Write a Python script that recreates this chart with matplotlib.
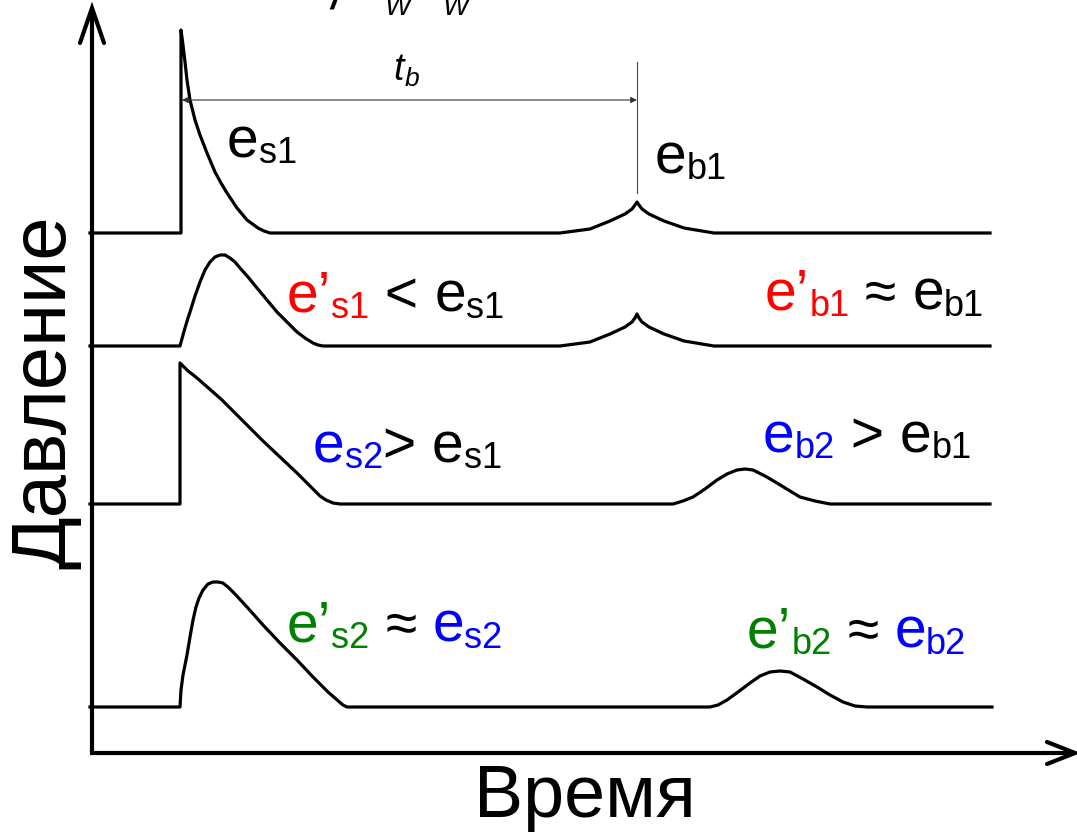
import matplotlib
matplotlib.use('Agg')
import matplotlib.pyplot as plt

plt.rcParams['font.family'] = ['Liberation Sans', 'DejaVu Sans']

# кривые давления, точки (время, давление; ось давления вниз)
t1 = [90, 181, 181, 183, 185, 187, 190, 195, 200, 207, 215, 221, 227, 237, 247, 258, 264, 270,
      560, 590, 610, 625, 632, 635, 637, 639, 642, 649, 664, 684, 714, 990]
p1 = [233, 233, 30, 45, 62, 80, 100, 120, 135, 153, 172, 183, 193, 208, 220, 228, 231, 233,
      233, 229, 221, 214, 209, 205, 202, 205, 209, 214, 221, 228, 233, 233]

t2 = [90, 180, 183, 185, 188, 190, 195, 200, 205, 210, 215, 220, 225, 230, 235, 240, 248, 257,
      267, 277, 287, 297, 305, 313, 318, 323,
      560, 590, 610, 625, 632, 635, 637, 639, 642, 649, 664, 684, 714, 990]
p2 = [346, 346, 335, 328, 318, 312, 296, 282, 270, 262, 257, 255, 255, 258, 262, 268, 277, 288,
      300, 312, 322, 332, 338, 343, 345, 346,
      346, 342, 334, 327, 322, 318, 314, 318, 322, 327, 334, 341, 346, 346]

t3 = [90, 180, 180, 184, 188, 192, 197, 205, 213, 222, 230, 247, 263, 280, 297, 305, 310, 315,
      320, 326, 333, 340,
      673, 683, 693, 705, 717, 727, 737, 745, 753, 765, 777, 790, 800, 815, 830, 990]
p3 = [504, 504, 363, 367, 371, 374, 378, 385, 392, 400, 408, 425, 441, 457, 473, 481, 486, 491,
      496, 500, 503, 504,
      504, 501, 497, 489, 480, 474, 470, 469, 470, 476, 483, 491, 497, 501, 504, 504]

t4 = [90, 180, 181, 183, 185, 187, 190, 193, 196, 199, 203, 208, 213, 218, 223, 229, 235, 247,
      263, 280, 297, 313, 328, 336, 343, 347,
      710, 718, 727, 738, 750, 760, 770, 780, 790, 803, 817, 830, 843, 855, 867, 992]
p4 = [707, 707, 690, 675, 665, 655, 637, 620, 607, 598, 590, 584, 582, 582, 583, 588, 594, 607,
      625, 643, 660, 677, 692, 699, 705, 707,
      707, 705, 700, 692, 683, 676, 672, 671, 672, 679, 687, 695, 702, 706, 707, 707]

# подписи: (текст, цвет, индекс)
lab_es1 = [('e', 'black', 's1')]
lab_eb1 = [('e', 'black', 'b1')]
lab_row2_left = [('e’', 'red', 's1'), (' < ', 'black', ''), ('e', 'black', 's1')]
lab_row2_right = [('e’', 'red', 'b1'), (' ≈ ', 'black', ''), ('e', 'black', 'b1')]
lab_row3_left = [('e', 'blue', 's2'), ('> ', 'black', ''), ('e', 'black', 's1')]
lab_row3_right = [('e', 'blue', 'b2'), (' > ', 'black', ''), ('e', 'black', 'b1')]
lab_row4_left = [('e’', 'green', 's2'), (' ≈ ', 'black', ''), ('e', 'blue', 's2')]
lab_row4_right = [('e’', 'green', 'b2'), (' ≈ ', 'black', ''), ('e', 'blue', 'b2')]

cmap = {'red': '#ff0000', 'blue': '#0000ff', 'green': '#008000', 'black': 'black'}

fig = plt.figure(figsize=(10.77, 8.34), dpi=100)
ax = fig.add_axes([0, 0, 1, 1])
ax.set_xlim(0, 1077)
ax.set_ylim(834, 0)
ax.axis('off')
renderer = fig.canvas.get_renderer()

for t, p in [(t1, p1), (t2, p2), (t3, p3), (t4, p4)]:
    ax.plot(t, p, color='black', lw=2.3, solid_joinstyle='round')

# оси со стрелками
ax.plot([92, 92], [753, 9], color='black', lw=3.0, solid_capstyle='butt')
ax.plot([80, 92, 104], [43, 8, 43], color='black', lw=3.0, solid_capstyle='round',
        solid_joinstyle='miter')
ax.plot([90, 1073], [753, 753], color='black', lw=3.0, solid_capstyle='butt')
ax.plot([1047, 1075, 1047], [742, 753, 764], color='black', lw=3.0, solid_capstyle='round',
        solid_joinstyle='miter')

# интервал t_b
ax.plot([637, 637], [62, 193], color='#444444', lw=0.8)
ax.annotate('', xy=(182, 100), xytext=(637, 100),
            arrowprops=dict(arrowstyle='<|-|>', lw=0.8, color='#333333',
                            mutation_scale=9, shrinkA=0, shrinkB=0))
ax.text(393, 80, 't', fontsize=27, style='italic', va='baseline')
ax.text(405, 86, 'b', fontsize=19, style='italic', va='baseline')

# обрезанная сверху надпись (в оригинале она тоже срезана краем)
ax.text(330, 8, '/', fontsize=26, fontweight='bold', style='italic', va='baseline')
ax.text(385, 15, 'W', fontsize=20, style='italic', va='baseline')
ax.text(443, 15, 'W', fontsize=20, style='italic', va='baseline')


def label(x, y, parts, size=41, sub=26, drop=6):
    for s, c, idx in parts:
        txt = ax.text(x, y, s, fontsize=size, color=cmap[c], va='baseline', ha='left')
        x = txt.get_window_extent(renderer).x1
        if idx:
            txt = ax.text(x, y + drop, idx, fontsize=sub, color=cmap[c], va='baseline', ha='left')
            x = txt.get_window_extent(renderer).x1


label(227, 157, lab_es1)
label(655, 173, lab_eb1)
label(287, 312, lab_row2_left)
label(765, 310, lab_row2_right)
label(313, 462, lab_row3_left)
label(763, 452, lab_row3_right)
label(287, 642, lab_row4_left)
label(747, 648, lab_row4_right)

ax.text(585, 798, 'Время', fontsize=53, ha='center', va='center')
ax.text(45, 392, 'Давление', fontsize=56, rotation=90, ha='center', va='center')

fig.savefig('out.png', dpi=100)
